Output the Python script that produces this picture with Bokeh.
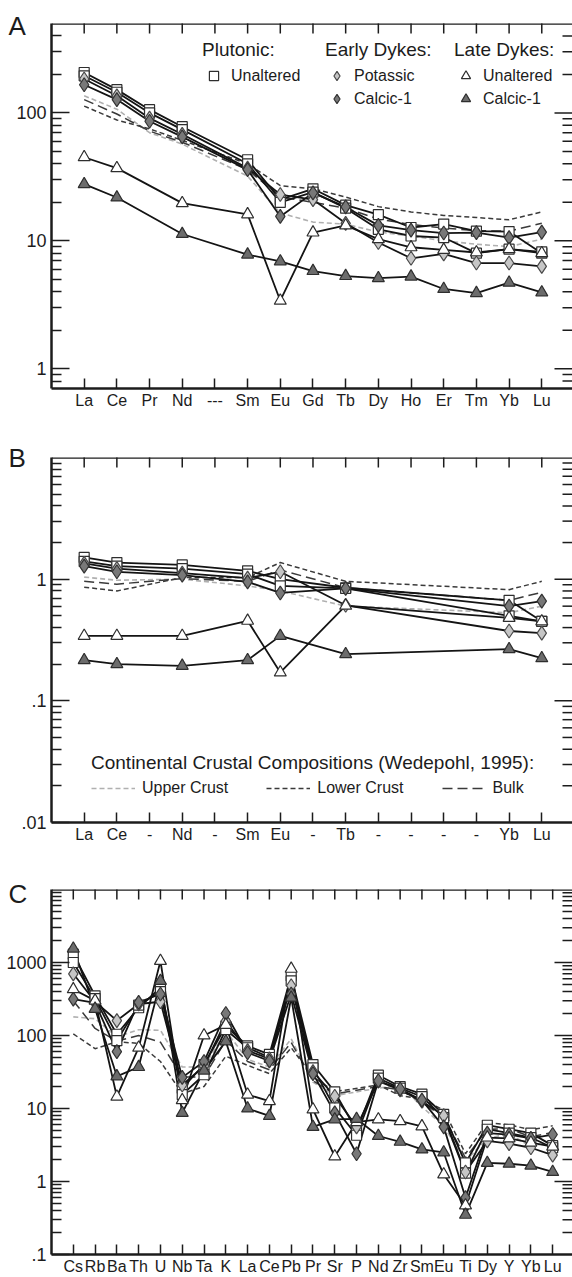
import math
from bokeh.plotting import figure
from bokeh.models import Range1d, FixedTicker, Legend, LegendItem, Span, Title
from bokeh.layouts import column
from bokeh.embed import file_html
from bokeh.resources import INLINE

FONT = "Liberation Sans"
INK = "#1c1c1c"

# ---------------- Panel A : REE ----------------
A_labels = ["La", "Ce", "Pr", "Nd", "---", "Sm", "Eu", "Gd", "Tb", "Dy", "Ho", "Er", "Tm", "Yb", "Lu"]
A_x = [0, 1, 2, 3, 5, 6, 7, 8, 9, 10, 11, 12, 13, 14]
A_plut1 = [207, 152, 106, 78, 43, 21, 25.5, 19, 16, 12.7, 13.5, 11.9, 11.8, 8.0]
A_plut2 = [195, 145, 100, 74, 40, 20, 24, 18, 12.3, 10.9, 10.6, 8.0, 8.6, 8.2]
A_potassic = [184, 136, 91, 68, 37, 23, 21, 13.7, 9.7, 7.3, 7.9, 6.7, 6.7, 6.3]
A_calcic = [166, 127, 86, 65, 36, 15.5, 23.7, 18.4, 13.2, 12.1, 11.5, 11.6, 10.6, 11.7]
A_late_x = [0, 1, 3, 5, 6, 7, 8, 9, 10, 11, 12, 13, 14]
A_late_unalt = [45, 37, 19.7, 16.1, 3.4, 11.6, 13.2, 10.3, 8.9, 8.5, 8.1, 8.6, 8.0]
A_late_calcic = [27.7, 21.8, 11.3, 7.8, 6.9, 5.8, 5.3, 5.1, 5.25, 4.2, 3.9, 4.7, 3.95]
A_upper = [136, 107, 70, 57, 32, 16.5, 14, 13.5, 11.7, 10.9, 10.0, 9.4, 9.0, 10.3]
A_lower = [113, 88, 75, 61, 40, 27, 25.5, 22, 18.5, 16.8, 15.8, 15.2, 14.6, 16.8]
A_bulk = [127, 98, 72, 59, 36, 22, 20, 18, 14.8, 13.4, 12.6, 12.0, 11.9, 13.7]

# ---------------- Panel B ----------------
B_labels = ["La", "Ce", "-", "Nd", "-", "Sm", "Eu", "-", "Tb", "-", "-", "-", "-", "Yb", "Lu"]
B_x = [0, 1, 3, 5, 6, 8, 13, 14]
B_plut1 = [1.51, 1.37, 1.31, 1.17, 1.0, 0.85, 0.67, 0.45]
B_plut2 = [1.40, 1.28, 1.22, 1.10, 0.88, 0.84, 0.50, 0.45]
B_potassic = [1.35, 1.22, 1.12, 1.02, 1.15, 0.61, 0.375, 0.36]
B_calcic = [1.28, 1.15, 1.08, 0.95, 0.77, 0.84, 0.60, 0.66]
B_late_unalt = [0.342, 0.342, 0.342, 0.455, 0.171, 0.605, 0.48, 0.45]
B_late_calcic = [0.216, 0.20, 0.194, 0.216, 0.342, 0.242, 0.266, 0.224]
B_upper = [1.04, 0.98, 1.0, 0.88, 0.80, 0.60, 0.53, 0.60]
B_lower = [0.86, 0.80, 1.03, 1.03, 1.37, 0.96, 0.82, 0.96]
B_bulk = [0.96, 0.91, 1.01, 0.96, 1.19, 0.85, 0.67, 0.78]

# ---------------- Panel C : spider ----------------
C_labels = ["Cs", "Rb", "Ba", "Th", "U", "Nb", "Ta", "K", "La", "Ce", "Pb", "Pr", "Sr", "P",
            "Nd", "Zr", "Sm", "Eu", "Ti", "Dy", "Y", "Yb", "Lu"]
C_x = [0, 1, 2, 3, 4, 5, 6, 7, 8, 9, 10, 11, 12, 13, 14, 15, 16, 17, 18, 19, 20, 21, 22]
C_plut1 = [1300, 350, 104, 240, 454, 19, 40, 134, 72, 55, 660, 40, 16.9, 5.0, 28.6, 20, 15.7, 8.3, 1.8, 5.9, 5.2, 4.6, 3.1]
C_plut2 = [1000, 320, 85, 260, 400, 15.5, 29, 120, 68, 50, 560, 36, 10.2, 4.3, 26, 19, 14.5, 7.5, 1.3, 5.2, 4.6, 4.0, 2.9]
C_potassic = [700, 290, 160, 270, 290, 21, 38, 158, 62, 48, 480, 32, 14.7, 5.6, 23.6, 18, 12.6, 8.0, 1.35, 3.6, 3.3, 2.9, 2.3]
C_calcic = [315, 280, 60, 285, 370, 26.7, 44, 200, 58, 45, 370, 30, 8.7, 2.4, 24, 18.5, 13, 5.6, 0.6, 4.6, 4.4, 3.9, 4.4]
C_late_unalt = [430, 300, 14.5, 68, 1050, 13, 100, 140, 15.5, 12.6, 820, 9.7, 2.2, 6.5, 7.1, 6.7, 5.7, 1.25, 0.47, 4.0, 3.9, 3.4, 3.0]
C_late_calcic = [1550, 232, 27.6, 37, 560, 8.7, 33, 83, 10, 7.9, 330, 5.6, 7.1, 7.2, 4.2, 3.5, 2.75, 2.5, 0.35, 1.8, 1.75, 1.65, 1.35]
C_crust_x = [0, 1, 2, 3, 4, 5, 6, 7, 8, 9, 10, 11, 12, 14, 15, 16, 17, 18, 19, 20, 21, 22]
C_upper = [180, 170, 96, 120, 118, 37, 37, 115, 47, 37, 90, 23, 15, 19, 21, 10.6, 5.7, 1.9, 3.9, 4.5, 3.0, 3.6]
C_lower = [105, 66, 82, 78, 44, 16, 20, 52, 39, 30, 68, 27, 17, 21, 15, 13.5, 9.5, 2.4, 6.4, 6.0, 5.1, 5.8]
C_bulk = [300, 125, 84, 100, 81, 27, 27, 86, 44, 34, 80, 24, 15.8, 20, 18, 12, 7.7, 2.1, 5.2, 5.3, 4.1, 4.7]

STY = {
    "plut": dict(marker="square", size=10, fill_color="white", line_color="#2e2e2e"),
    "pot": dict(marker="diamond", size=14, fill_color="#c6c6c6", line_color="#4a4a4a"),
    "cal": dict(marker="diamond", size=14, fill_color="#787878", line_color="#333333"),
    "lun": dict(marker="triangle", size=12, fill_color="white", line_color="#2e2e2e"),
    "lca": dict(marker="triangle", size=12, fill_color="#6c6c6c", line_color="#2e2e2e"),
}


def minors_for(lo, hi):
    out = []
    for e in range(-3, 5):
        for m in range(2, 10):
            v = m * 10 ** e
            if lo * 1.0001 < v < hi * 0.9999:
                out.append(v)
    return out


def panel(height, top, bottom, xmax, ylo, yhi, majors, overrides, labels, letter, letter_standoff):
    p = figure(width=572, height=height, x_range=Range1d(-1, xmax), y_range=Range1d(ylo, yhi),
               y_axis_type="log", output_backend="svg", toolbar_location=None,
               min_border_left=51, min_border_right=0, min_border_top=top, min_border_bottom=bottom)
    p.outline_line_color = None
    p.xgrid.visible = False
    p.ygrid.visible = False
    p.background_fill_color = "white"
    p.border_fill_color = "white"
    minors = minors_for(ylo, yhi)

    # panel letter, placed in the top border and pulled down beside the frame
    p.add_layout(Title(text=letter, align="left", offset=-43, standoff=letter_standoff,
                       text_font=FONT, text_font_size="26px", text_font_style="normal",
                       text_color=INK), "above")

    ly = p.yaxis[0]
    ly.ticker = FixedTicker(ticks=majors, minor_ticks=minors)
    ly.major_label_overrides = overrides
    ly.major_label_text_font = FONT
    ly.major_label_text_font_size = "18px"
    ly.major_label_text_color = INK
    ly.major_label_standoff = 5
    ly.major_tick_in = 18
    ly.major_tick_out = 0
    ly.minor_tick_in = 10
    ly.minor_tick_out = 0
    ly.axis_line_width = 2.5
    ly.axis_line_color = INK
    ly.major_tick_line_width = 1.5
    ly.minor_tick_line_width = 1.5
    ly.major_tick_line_color = INK
    ly.minor_tick_line_color = INK

    bx = p.xaxis[0]
    bx.ticker = FixedTicker(ticks=list(range(len(labels))), minor_ticks=[])
    bx.major_label_overrides = {i: s for i, s in enumerate(labels)}
    bx.major_label_text_font = FONT
    bx.major_label_text_font_size = "16px"
    bx.major_label_text_color = INK
    bx.major_label_standoff = 3
    bx.major_tick_in = 10
    bx.major_tick_out = 0
    bx.minor_tick_in = 0
    bx.minor_tick_out = 0
    bx.axis_line_width = 2.5
    bx.axis_line_color = INK
    bx.major_tick_line_width = 1.5
    bx.major_tick_line_color = INK

    # top frame edge
    p.add_layout(Span(location=yhi, dimension="width", line_color=INK, line_width=2.5))
    # inward ticks on the top edge (clipped to the frame, so half shows)
    n = len(labels)
    p.scatter(list(range(n)), [yhi] * n, marker="dash", angle=math.pi / 2, size=20,
              line_color=INK, line_width=1.5)
    # inward ticks on the right edge
    inner_major = [t for t in majors if ylo < t < yhi]
    p.scatter([xmax] * len(inner_major), inner_major, marker="dash", size=36,
              line_color=INK, line_width=1.5)
    p.scatter([xmax] * len(minors), minors, marker="dash", size=20,
              line_color=INK, line_width=1.5)
    return p


def crust(p, x, up, lo, bu):
    r_up = p.line(x, up, line_color="#b0b0b0", line_width=1.6, line_dash="5 3")
    r_lo = p.line(x, lo, line_color="#3a3a3a", line_width=1.5, line_dash="5 3")
    r_bu = p.line(x, bu, line_color="#3a3a3a", line_width=1.5, line_dash="10 5")
    return r_up, r_lo, r_bu


def samples(p, series):
    for x, y, key in series:
        p.line(x, y, line_color="#141414", line_width=1.8)
    rends = {}
    for x, y, key in series:
        r = p.scatter(x, y, line_width=1.2, **STY[key])
        rends.setdefault(key, r)
    return rends


# ---------- build A ----------
A_lo, A_hi, A_xmax = 0.7, 500, 14.94
pA = panel(430, 23, 42, A_xmax, A_lo, A_hi, [1, 10, 100], {1: "1", 10: "10", 100: "100"},
           A_labels, "A", -35)
crust(pA, A_x, A_upper, A_lower, A_bulk)
rA = samples(pA, [(A_x, A_plut1, "plut"), (A_x, A_plut2, "plut"), (A_x, A_potassic, "pot"),
                  (A_x, A_calcic, "cal"), (A_late_x, A_late_unalt, "lun"), (A_late_x, A_late_calcic, "lca")])


def legend_a(title, items, vx, vy):
    lg = Legend(title=title, items=items, location=(vx, vy), orientation="vertical",
                padding=0, margin=0, spacing=0, glyph_width=23, glyph_height=23, label_height=23,
                label_standoff=6, title_standoff=3,
                label_text_font=FONT, label_text_font_size="16px", label_text_color=INK,
                title_text_font=FONT, title_text_font_size="19px", title_text_font_style="normal",
                title_text_color=INK, background_fill_alpha=0, border_line_alpha=0)
    pA.add_layout(lg)


legend_a("Plutonic:", [LegendItem(label="Unaltered", renderers=[rA["plut"]])], 151, 301)
legend_a("Early Dykes:", [LegendItem(label="Potassic", renderers=[rA["pot"]]),
                          LegendItem(label="Calcic-1", renderers=[rA["cal"]])], 274, 278)
legend_a("Late Dykes:", [LegendItem(label="Unaltered", renderers=[rA["lun"]]),
                         LegendItem(label="Calcic-1", renderers=[rA["lca"]])], 403, 278)

# ---------- build B ----------
B_lo, B_hi, B_xmax = 0.01, 10, 14.94
pB = panel(437, 27, 45, B_xmax, B_lo, B_hi, [0.01, 0.1, 1], {0.01: ".01", 0.1: ".1", 1: "1"},
           B_labels, "B", -31)
rb = crust(pB, B_x, B_upper, B_lower, B_bulk)
samples(pB, [(B_x, B_plut1, "plut"), (B_x, B_plut2, "plut"), (B_x, B_potassic, "pot"),
             (B_x, B_calcic, "cal"), (B_x, B_late_unalt, "lun"), (B_x, B_late_calcic, "lca")])
lgB = Legend(title="Continental Crustal Compositions (Wedepohl, 1995):",
             items=[LegendItem(label="Upper Crust", renderers=[rb[0]]),
                    LegendItem(label="Lower Crust", renderers=[rb[1]]),
                    LegendItem(label="Bulk", renderers=[rb[2]])],
             location=(40, 24), orientation="horizontal", padding=0, margin=0, spacing=38,
             glyph_width=44, glyph_height=20, label_height=20, label_standoff=7, title_standoff=4,
             label_text_font=FONT, label_text_font_size="16px", label_text_color=INK,
             title_text_font=FONT, title_text_font_size="19px", title_text_font_style="normal",
             title_text_color=INK, background_fill_alpha=0, border_line_alpha=0)
pB.add_layout(lgB)

# ---------- build C ----------
C_lo, C_hi, C_xmax = 0.1, 10000, 22.91
pC = panel(410, 22, 23, C_xmax, C_lo, C_hi, [0.1, 1, 10, 100, 1000],
           {0.1: ".1", 1: "1", 10: "10", 100: "100", 1000: "1000"}, C_labels, "C", -39)
crust(pC, C_crust_x, C_upper, C_lower, C_bulk)
samples(pC, [(C_x, C_plut1, "plut"), (C_x, C_plut2, "plut"), (C_x, C_potassic, "pot"),
             (C_x, C_calcic, "cal"), (C_x, C_late_unalt, "lun"), (C_x, C_late_calcic, "lca")])

layout = column(pA, pB, pC, spacing=0)
open("out.html", "w").write(file_html(layout, INLINE))
